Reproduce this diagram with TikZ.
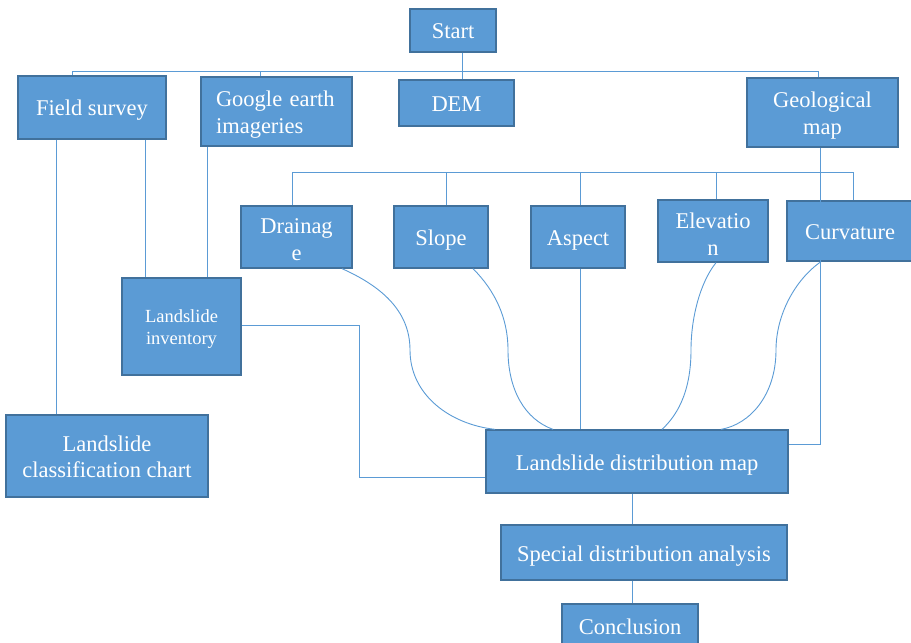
\documentclass[tikz,border=0pt]{standalone}
\usepackage{fontspec}
\setmainfont{Liberation Serif}
\definecolor{boxfill}{HTML}{5B9BD5}
\definecolor{boxedge}{HTML}{41719C}
\definecolor{linec}{HTML}{5B9BD5}
\newcommand{\tst}{\rule{0pt}{1.022em}}
\newcommand{\bst}{\rule[-0.267em]{0pt}{0.267em}}
\begin{document}
\begin{tikzpicture}[x=1pt,y=-1pt,
  box/.style={draw=boxedge, fill=boxfill, line width=1.3pt, text=white,
    inner sep=0pt, align=center, font=\fontsize{22.5}{27}\selectfont,
    execute at begin node={\tst}, execute at end node={\bst}},
  smallbox/.style={box, font=\fontsize{18.5}{22}\selectfont},
  conn/.style={draw=linec, line width=0.9pt}]
\useasboundingbox (0,0) rectangle (911,643);

% nodes
\node[box, minimum width=86pt, minimum height=43pt] (start) at (453,30.5) {Start};
\node[box, minimum width=148pt, minimum height=63pt] (fs) at (92,107.5) {Field survey};
\node[box, minimum width=151pt, minimum height=69pt, text width=121pt, align=left] (ge) at (276.5,111.5) {\tst Google earth\\imageries};
\node[box, minimum width=115pt, minimum height=46pt] (dem) at (456.5,103) {DEM};
\node[box, minimum width=151pt, minimum height=69pt] (geo) at (822.5,112.5) {\tst Geological\\map};
\node[box, minimum width=111pt, minimum height=62pt, execute at end node={}] (dr) at (296.5,237) {\rule{0pt}{26pt}Drainag\\e};
\node[box, minimum width=94pt, minimum height=62pt] (sl) at (441,237) {Slope};
\node[box, minimum width=94pt, minimum height=62pt] (as) at (578,237) {Aspect};
\node[box, minimum width=110pt, minimum height=62pt] (el) at (713,231) {\rule{0pt}{28pt}Elevatio\\n};
\node[box, minimum width=126pt, minimum height=60pt] (cu) at (850,231) {Curvature};
\node[smallbox, minimum width=119pt, minimum height=97pt] (inv) at (181.5,326.5) {\tst Landslide\\inventory};
\node[box, minimum width=202pt, minimum height=82pt] (lcc) at (107,456) {\tst Landslide\\classification chart};
\node[box, minimum width=302pt, minimum height=63pt] (ldm) at (637,461.5) {Landslide distribution map};
\node[box, minimum width=286pt, minimum height=55pt] (sda) at (644,552.5) {Special distribution analysis};
\node[box, minimum width=136pt, minimum height=44pt] (con) at (630,626) {Conclusion};

% helper coordinates
\coordinate (bus1) at (0,71);
\coordinate (bus2) at (0,172);
\coordinate (drm) at (410,350);
\coordinate (slm) at (508,350);
\coordinate (elm) at (691,350);
\coordinate (cum) at (776,350);

% top bus
\draw[conn] ([xshift=9pt]start.south) -- ([xshift=9pt]start.south |- dem.north);
\draw[conn] ([xshift=-20pt]fs.north) -- ([xshift=-20pt]fs.north |- bus1)
  -- ([xshift=-4.5pt]geo.north |- bus1) -- ([xshift=-4.5pt]geo.north);
\draw[conn] ([xshift=-16.5pt]ge.north) -- ([xshift=-16.5pt]ge.north |- bus1);

% field survey / google to lower boxes
\draw[conn] ([xshift=-36pt]fs.south) -- ([xshift=-36pt]fs.south |- lcc.north);
\draw[conn] ([xshift=53pt]fs.south) -- ([xshift=53pt]fs.south |- inv.north);
\draw[conn] ([xshift=-69.5pt]ge.south) -- ([xshift=-69.5pt]ge.south |- inv.north);

% geological map to distribution map
\draw[conn] ([xshift=-2.5pt]geo.south) |- ([yshift=17.5pt]ldm.east);

% second bus
\draw[conn] ([xshift=-4.5pt]dr.north) |- ([xshift=3pt]cu.north |- bus2) -- ([xshift=3pt]cu.north);
\draw[conn] ([xshift=5pt]sl.north) -- ([xshift=5pt]sl.north |- bus2);
\draw[conn] ([xshift=2pt]as.north) -- ([xshift=2pt]as.north |- bus2);
\draw[conn] ([xshift=3pt]el.north) -- ([xshift=3pt]el.north |- bus2);

% factors to distribution map
\draw[conn] ([xshift=45.5pt]dr.south) .. controls +(38,17) and +(0,-40) .. (drm)
  .. controls +(0,45) and +(-45,-5) .. ([xshift=-142pt]ldm.north);
\draw[conn] ([xshift=32pt]sl.south) .. controls +(22,22) and +(0,-32) .. (slm)
  .. controls +(0,40) and +(-28,-10) .. ([xshift=-84pt]ldm.north);
\draw[conn] ([xshift=2pt]as.south) -- ([xshift=2pt]as.south |- ldm.north);
\draw[conn] ([xshift=3pt]el.south) .. controls +(-16,20) and +(0,-32) .. (elm)
  .. controls +(0,45) and +(13,-12) .. ([xshift=25pt]ldm.north);
\draw[conn] ([xshift=-29pt]cu.south) .. controls +(-26,18) and +(0,-35) .. (cum)
  .. controls +(0,45) and +(29,-5) .. ([xshift=84pt]ldm.north);

% inventory to distribution map
\draw[conn] ([yshift=1.5pt]inv.east) -- ++(118,0) |- ([yshift=-15.5pt]ldm.west);

% bottom chain
\draw[conn] ([xshift=-5pt]ldm.south) -- ([xshift=-5pt]ldm.south |- sda.north);
\draw[conn] ([xshift=-12pt]sda.south) -- ([xshift=-12pt]sda.south |- con.north);
\end{tikzpicture}
\end{document}
